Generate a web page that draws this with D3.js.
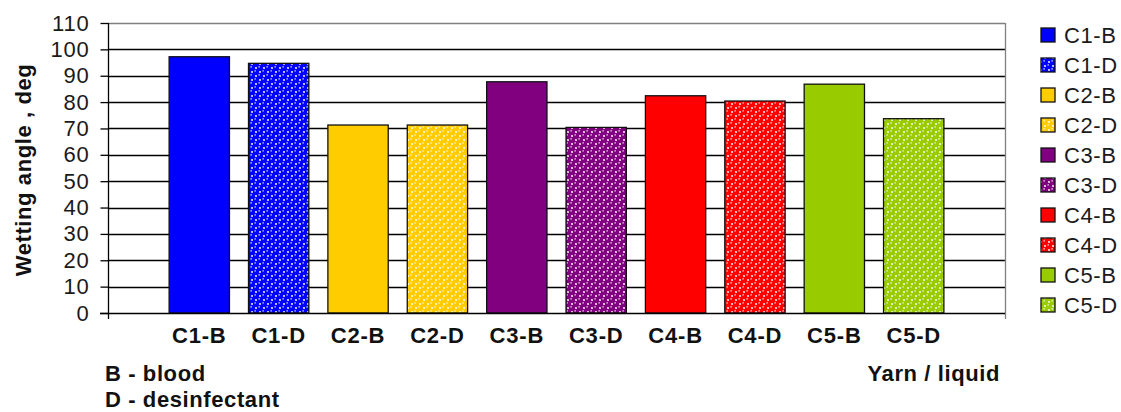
<!DOCTYPE html>
<html>
<head>
<meta charset="utf-8">
<script src="https://cdn.jsdelivr.net/npm/d3@7"></script>
<style>
  html, body { margin: 0; padding: 0; background: #fff; }
  svg { display: block; font-family: "Liberation Sans", Arial, sans-serif; }
</style>
</head>
<body>
<svg id="chart" width="1121" height="412"></svg>
<script>
// Yarn / liquid combinations and their wetting angles (deg)
const categories = ["C1-B", "C1-D", "C2-B", "C2-D", "C3-B", "C3-D", "C4-B", "C4-D", "C5-B", "C5-D"];
const angles = [97.2, 94.7, 71.3, 71.3, 87.7, 70.4, 82.4, 80.4, 86.8, 73.7];
const yarnColors = ["#0000ff", "#0000ff", "#ffcc00", "#ffcc00", "#800080", "#800080", "#ff0000", "#ff0000", "#99cc00", "#99cc00"];
const patterned = [false, true, false, true, false, true, false, true, false, true];
const yTicks = [0, 10, 20, 30, 40, 50, 60, 70, 80, 90, 100, 110];
const notes = ["B - blood", "D - desinfectant"];

const svg = d3.select("#chart");
const plot = { left: 108, right: 1005, top: 23, bottom: 313 };
const FS = 22;

const y = d3.scaleLinear().domain([0, 110]).range([plot.bottom, plot.top]);
const x = d3.scaleBand().domain(categories).range([plot.left, plot.right])
  .paddingInner(0.24).paddingOuter(0.77);

// Dotted fill for the disinfectant bars
const defs = svg.append("defs");
categories.forEach((c, i) => {
  if (!patterned[i]) return;
  const p = defs.append("pattern").attr("id", "pat" + i)
    .attr("patternUnits", "userSpaceOnUse").attr("width", 8).attr("height", 8);
  p.append("rect").attr("width", 8).attr("height", 8).attr("fill", "#fff");
  [[0, 0], [8, 0], [0, 8], [8, 8], [4, 4]].forEach(([cx, cy]) => {
    p.append("circle").attr("cx", cx).attr("cy", cy).attr("r", 3.2).attr("fill", yarnColors[i]);
    p.append("circle").attr("cx", cx - 0.9).attr("cy", cy - 1.1).attr("r", 0.8).attr("fill", "#fff").attr("opacity", 0.8);
  });
});
const fillOf = i => patterned[i] ? `url(#pat${i})` : yarnColors[i];

// Horizontal gridlines
svg.append("g").selectAll("line").data(yTicks.filter(t => t > 0)).join("line")
  .attr("x1", plot.left).attr("x2", plot.right)
  .attr("y1", d => Math.round(y(d)) + 0.5).attr("y2", d => Math.round(y(d)) + 0.5)
  .attr("stroke", d => d === 110 ? "#808080" : "#000").attr("stroke-width", 1.3);

// Right border of plot area
svg.append("line").attr("x1", plot.right + 0.5).attr("x2", plot.right + 0.5)
  .attr("y1", plot.top).attr("y2", plot.bottom + 6).attr("stroke", "#808080").attr("stroke-width", 1.3);

// Bars
svg.append("g").selectAll("rect").data(categories).join("rect")
  .attr("x", d => x(d)).attr("width", x.bandwidth())
  .attr("y", (d, i) => y(angles[i])).attr("height", (d, i) => y(0) - y(angles[i]))
  .attr("fill", (d, i) => fillOf(i))
  .attr("stroke", "#111").attr("stroke-width", 1.3);

// Y axis
const yAxis = d3.axisLeft(y).tickValues(yTicks).tickSize(8).tickPadding(11);
const gy = svg.append("g").attr("transform", `translate(${plot.left + 0.5},0)`).call(yAxis);
gy.select(".domain").remove();
gy.selectAll(".tick line").attr("stroke", "#000").attr("stroke-width", 1.3);
gy.selectAll(".tick text").attr("font-size", FS).attr("fill", "#1a1a1a")
  .attr("font-family", "'Liberation Sans', Arial, sans-serif").attr("letter-spacing", 0.8);
svg.append("line").attr("x1", plot.left + 0.5).attr("x2", plot.left + 0.5)
  .attr("y1", plot.top).attr("y2", plot.bottom + 6).attr("stroke", "#000").attr("stroke-width", 1.3);

// X axis line
svg.append("line").attr("x1", plot.left - 8).attr("x2", plot.right)
  .attr("y1", plot.bottom + 0.5).attr("y2", plot.bottom + 0.5).attr("stroke", "#000").attr("stroke-width", 1.3);

// Category labels
svg.append("g").selectAll("text").data(categories).join("text")
  .attr("x", d => x(d) + x.bandwidth() / 2).attr("y", 343)
  .attr("text-anchor", "middle").attr("font-size", FS).attr("font-weight", "bold")
  .attr("fill", "#111").attr("letter-spacing", 0.8).text(d => d);

// Axis titles
svg.append("text").attr("transform", "translate(31,170) rotate(-90)")
  .attr("text-anchor", "middle").attr("font-size", FS).attr("font-weight", "bold")
  .attr("fill", "#111").attr("letter-spacing", 0.6).text("Wetting angle , deg");
svg.append("text").attr("x", 1000).attr("y", 381)
  .attr("text-anchor", "end").attr("font-size", FS).attr("font-weight", "bold")
  .attr("fill", "#111").attr("letter-spacing", 0.6).text("Yarn / liquid");

// Liquid abbreviations
svg.append("g").selectAll("text").data(notes).join("text")
  .attr("x", 105).attr("y", (d, i) => 381 + i * 26)
  .attr("font-size", FS).attr("font-weight", "bold").attr("fill", "#111")
  .attr("letter-spacing", 0.6).text(d => d);

// Legend
const legend = svg.append("g").selectAll("g").data(categories).join("g")
  .attr("transform", (d, i) => `translate(1041,${28 + i * 30})`);
legend.append("rect").attr("width", 14).attr("height", 14)
  .attr("fill", (d, i) => fillOf(i)).attr("stroke", "#111").attr("stroke-width", 1.3);
legend.append("text").attr("x", 23).attr("y", 15)
  .attr("font-size", FS).attr("fill", "#1a1a1a").attr("letter-spacing", 0.6).text(d => d);
</script>
</body>
</html>
